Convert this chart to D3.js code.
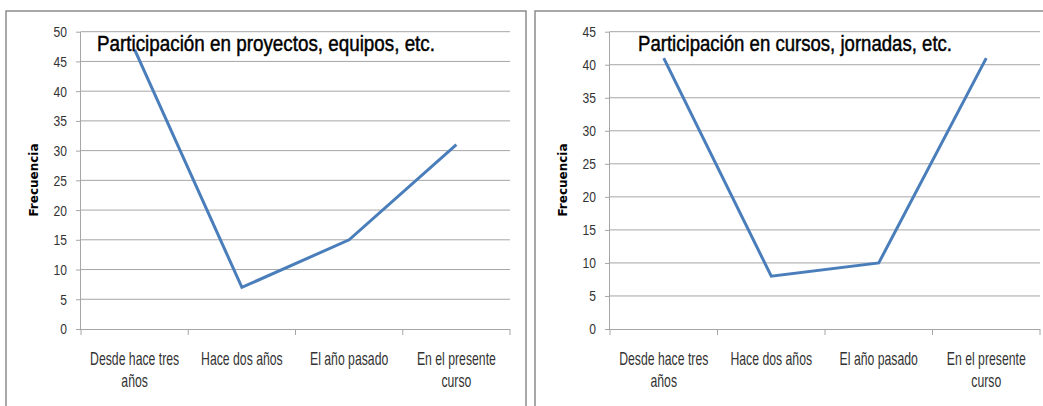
<!DOCTYPE html>
<html>
<head>
<meta charset="utf-8">
<script src="https://cdn.jsdelivr.net/npm/d3@7"></script>
<style>
  html, body { margin: 0; padding: 0; background: #fff; }
  svg { display: block; }
</style>
</head>
<body>
<svg id="chart" width="1043" height="406"></svg>
<script>
// ---- data ----
const categories = ["Desde hace tres años", "Hace dos años", "El año pasado", "En el presente curso"];
const valuesProyectos = [47, 7, 15, 31];
const valuesCursos = [41, 8, 10, 41];
const ticksProyectos = [0, 5, 10, 15, 20, 25, 30, 35, 40, 45, 50];
const ticksCursos = [0, 5, 10, 15, 20, 25, 30, 35, 40, 45];
const titleProyectos = "Participación en proyectos, equipos, etc.";
const titleCursos = "Participación en cursos, jornadas, etc.";
const yAxisLabel = "Frecuencia";

const svg = d3.select("#chart");
const FONT = "'Liberation Sans', Arial, sans-serif";
const SQ_TICK = 0.78;
const SQ_CAT = 0.7;

function wrap(textSel, width) {
  textSel.each(function () {
    const text = d3.select(this);
    const words = text.text().split(/\s+/);
    text.text(null);
    let line = [];
    let tspan = text.append("tspan").attr("x", 0).attr("dy", 0);
    words.forEach(w => {
      line.push(w);
      tspan.text(line.join(" "));
      if (tspan.node().getComputedTextLength() > width && line.length > 1) {
        line.pop();
        tspan.text(line.join(" "));
        line = [w];
        tspan = text.append("tspan").attr("x", 0).attr("dy", "22px").text(w);
      }
    });
  });
}

function drawChart(opts) {
  const g = svg.append("g");
  // frame
  g.append("rect")
    .attr("x", opts.frame[0]).attr("y", opts.frame[1])
    .attr("width", opts.frame[2]).attr("height", opts.frame[3])
    .attr("fill", "none").attr("stroke", "#8c8c8c").attr("stroke-width", 1.5);

  const x = d3.scaleBand().domain(categories).range([opts.left, opts.right]).padding(0);
  const y = d3.scaleLinear().domain([0, d3.max(opts.ticks)]).range([opts.bottom, opts.top]);

  // gridlines
  g.append("g").selectAll("line").data(opts.ticks.filter(t => t > 0)).join("line")
    .attr("x1", opts.left).attr("x2", opts.right)
    .attr("y1", d => y(d)).attr("y2", d => y(d))
    .attr("stroke", "#a6a6a6").attr("stroke-width", 1);

  // y axis
  const yAxis = g.append("g").attr("transform", `translate(${opts.left},0)`)
    .call(d3.axisLeft(y).tickValues(opts.ticks).tickSize(5).tickPadding(8).tickFormat(d3.format("d")));
  yAxis.select(".domain").attr("stroke", "#a6a6a6").attr("d", `M-0.5,${opts.top}V${opts.bottom}`);
  yAxis.selectAll(".tick line").attr("stroke", "#a6a6a6");
  yAxis.selectAll(".tick text")
    .attr("font-family", FONT).attr("font-size", "15.5px").attr("fill", "#333")
    .attr("x", -14 / SQ_TICK).attr("transform", `scale(${SQ_TICK},1)`);

  // x axis
  const xAxis = g.append("g").attr("transform", `translate(0,${opts.bottom})`)
    .call(d3.axisBottom(x).tickSize(0).tickPadding(0).tickFormat(""));
  xAxis.select(".domain").attr("stroke", "#a6a6a6").attr("d", `M${opts.left},0.5H${opts.right}`);
  xAxis.selectAll(".tick").remove();
  const bounds = categories.map(c => x(c)).concat([opts.right]);
  xAxis.append("g").selectAll("line").data(bounds).join("line")
    .attr("x1", d => d).attr("x2", d => d).attr("y1", 0).attr("y2", 6)
    .attr("stroke", "#a6a6a6");
  xAxis.append("g").selectAll("text").data(categories).join("text")
    .attr("transform", d => `translate(${x(d) + x.bandwidth() / 2},36) scale(${SQ_CAT},1)`)
    .attr("x", 0).attr("y", 0)
    .attr("text-anchor", "middle")
    .attr("font-family", FONT).attr("font-size", "17.5px").attr("fill", "#333")
    .text(d => d)
    .call(wrap, (x.bandwidth() - 6) / SQ_CAT);

  // line
  const line = d3.line()
    .x((d, i) => x(categories[i]) + x.bandwidth() / 2)
    .y(d => y(d));
  g.append("path").datum(opts.values)
    .attr("d", line).attr("fill", "none")
    .attr("stroke", "#4a7ebb").attr("stroke-width", 3).attr("stroke-linejoin", "miter");

  // title
  g.append("text").attr("x", opts.titleX).attr("y", 51)
    .attr("font-family", FONT).attr("font-size", "21.5px").attr("fill", "#000")
    .attr("stroke", "#000").attr("stroke-width", 0.45)
    .attr("textLength", opts.titleW).attr("lengthAdjust", "spacingAndGlyphs")
    .text(opts.title);

  // y label
  g.append("text")
    .attr("transform", `translate(${opts.ylabX},180) rotate(-90)`)
    .attr("text-anchor", "middle")
    .attr("font-family", "'DejaVu Sans', Verdana, sans-serif").attr("font-weight", "bold")
    .attr("font-size", "12px").attr("fill", "#000")
    .text(yAxisLabel);
}

drawChart({
  frame: [6, 11, 520, 420],
  left: 81, right: 510, top: 31.7, bottom: 329,
  ticks: ticksProyectos, values: valuesProyectos,
  title: titleProyectos, titleX: 97, titleW: 338, ylabX: 38
});
drawChart({
  frame: [535, 11, 520, 420],
  left: 610, right: 1040, top: 31.7, bottom: 329,
  ticks: ticksCursos, values: valuesCursos,
  title: titleCursos, titleX: 638, titleW: 314, ylabX: 567
});
</script>
</body>
</html>
